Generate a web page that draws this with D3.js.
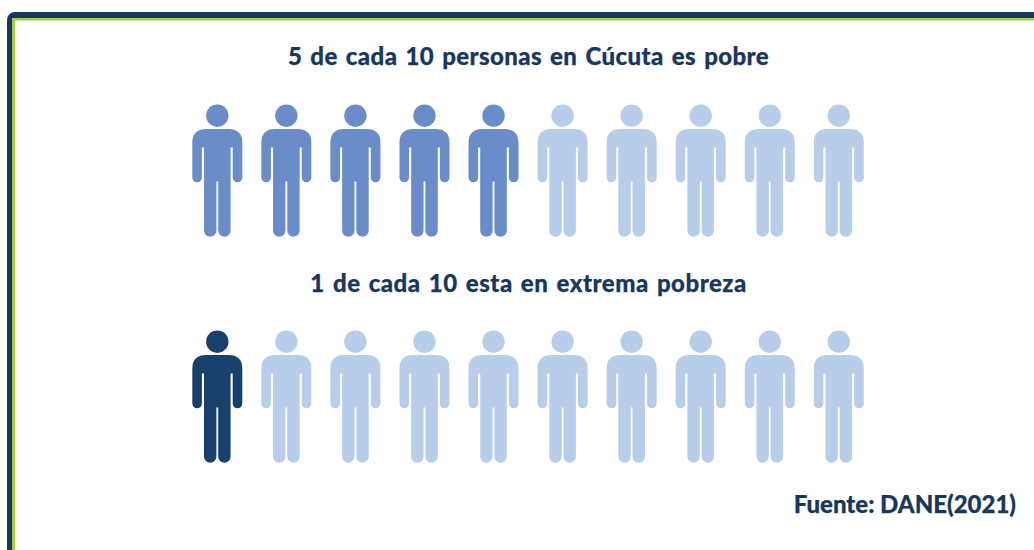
<!DOCTYPE html>
<html>
<head>
<meta charset="utf-8">
<script src="https://cdn.jsdelivr.net/npm/d3@7"></script>
<style>
    html, body { margin: 0; padding: 0; background: #fff; overflow: hidden; }
    text { font-family: "Lato", sans-serif; font-weight: 900; fill: #17375e; stroke: #17375e; stroke-width: 0.25; }
</style>
</head>
<body>
<div class="graph-goes-here"></div>
<script>
var titles = ["5 de cada 10 personas en Cúcuta es pobre", "1 de cada 10 esta en extrema pobreza"];
var filled = [5, 1];
var total = 10;
var source = "Fuente: DANE(2021)";

var width = 1034, height = 550;
var dark = "#17375e", green = "#a6ce39";
var fillColors = ["#6a8dca", "#17406d"];
var emptyColor = "#b8cdea";

var svg = d3.select(".graph-goes-here")
    .append("svg")
    .attr("width", width)
    .attr("height", height);

// frame: runs off the right and bottom of the picture
svg.append("rect")
    .attr("x", 7).attr("y", 12)
    .attr("width", width + 40).attr("height", height + 40)
    .attr("rx", 8)
    .attr("fill", dark);
svg.append("rect")
    .attr("x", 12).attr("y", 18)
    .attr("width", width + 40).attr("height", height + 40)
    .attr("fill", green);
svg.append("rect")
    .attr("x", 15).attr("y", 20.5)
    .attr("width", width + 40).attr("height", height + 40)
    .attr("fill", "#fff");

// the little person, drawn around x=0 with the top of the head at y=0
function personPath() {
    var p = d3.path();
    p.moveTo(-25, 38);
    p.quadraticCurveTo(-25, 24.5, -11, 24.5);
    p.lineTo(11, 24.5);
    p.quadraticCurveTo(25, 24.5, 25, 38);
    p.lineTo(25, 73);
    p.arc(20.2, 73, 4.8, 0, Math.PI);
    p.lineTo(15.4, 43);
    p.lineTo(13.3, 43);
    p.lineTo(13.3, 126);
    p.arc(7.1, 126, 6.2, 0, Math.PI);
    p.lineTo(0.9, 77);
    p.lineTo(-0.9, 77);
    p.lineTo(-0.9, 126);
    p.arc(-7.1, 126, 6.2, 0, Math.PI);
    p.lineTo(-13.3, 43);
    p.lineTo(-15.4, 43);
    p.lineTo(-15.4, 73);
    p.arc(-20.2, 73, 4.8, 0, Math.PI);
    p.closePath();
    return p.toString();
}

var xScale = d3.scalePoint().domain(d3.range(total)).range([217.3, 838.8]);
var rowScale = d3.scalePoint().domain(d3.range(titles.length)).range([104.5, 330.5]);

var rows = svg.selectAll("g.row")
    .data(titles)
    .enter().append("g")
    .attr("class", "row")
    .attr("transform", (d, i) => "translate(0," + rowScale(i) + ")");

rows.append("text")
    .attr("x", 528.5)
    .attr("y", (d, i) => i ? -39 : -40)
    .attr("text-anchor", "middle")
    .attr("font-size", 24)
    .attr("letter-spacing", (d, i) => i ? 0.5 : 0.4)
    .attr("word-spacing", 2)
    .text(d => d);

var people = rows.selectAll("g.person")
    .data((d, i) => d3.range(total).map(k => ({ k: k, color: k < filled[i] ? fillColors[i] : emptyColor })))
    .enter().append("g")
    .attr("class", "person")
    .attr("transform", d => "translate(" + xScale(d.k) + ",0)")
    .attr("fill", d => d.color);

people.append("circle").attr("cy", 11.2).attr("r", 11.2);
people.append("path").attr("d", personPath());

svg.append("text")
    .attr("x", 1016)
    .attr("y", 513)
    .attr("text-anchor", "end")
    .attr("font-size", 24)
    .text(source);
</script>
</body>
</html>
